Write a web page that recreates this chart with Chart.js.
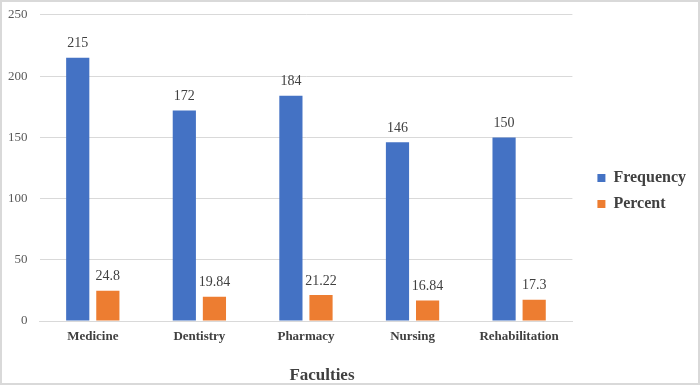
<!DOCTYPE html>
<html>
<head>
<meta charset="utf-8">
<script src="https://cdn.jsdelivr.net/npm/chart.js@4"></script>
<style>
  html, body { margin: 0; padding: 0; background: #fff; }
  #wrap { width: 700px; height: 385px; box-sizing: border-box; border: 2px solid #d9d9d9; position: relative; }
</style>
</head>
<body>
<div id="wrap"><canvas id="grafico"></canvas></div>
<script>
// datos
var facultades = ["Medicine", "Dentistry", "Pharmacy", "Nursing", "Rehabilitation"];
var frecuencia = [215, 172, 184, 146, 150];
var porcentaje = [24.8, 19.84, 21.22, 16.84, 17.3];
var ticksY = [0, 50, 100, 150, 200, 250];
var tituloX = "Faculties";

var serif = "'Liberation Serif', 'Times New Roman', serif";

// etiquetas encima de cada barra + titulo del eje x (un poco corrido a la derecha como en el original)
var etiquetas = {
  id: "etiquetas",
  afterDatasetsDraw: function(chart) {
    var ctx = chart.ctx;
    ctx.save();
    ctx.font = "14px " + serif;
    ctx.fillStyle = "#404040";
    ctx.textAlign = "center";
    ctx.textBaseline = "bottom";
    chart.data.datasets.forEach(function(ds, i) {
      chart.getDatasetMeta(i).data.forEach(function(bar, j) {
        ctx.fillText(String(ds.data[j]), bar.x, bar.y - 7);
      });
    });
    var area = chart.chartArea;
    ctx.font = "bold 17px " + serif;
    ctx.textBaseline = "middle";
    ctx.fillText(tituloX, (area.left + area.right) / 2 + 16, chart.height - 7);
    ctx.restore();
  }
};

var ctx = document.getElementById("grafico").getContext("2d");
var chart = new Chart(ctx, {
  type: "bar",
  data: {
    labels: facultades,
    datasets: [
      { label: "Frequency", data: frecuencia, backgroundColor: "#4472C4" },
      { label: "Percent", data: porcentaje, backgroundColor: "#ED7D31" }
    ]
  },
  options: {
    responsive: true,
    maintainAspectRatio: false,
    animation: false,
    categoryPercentage: 0.565,
    barPercentage: 0.77,
    layout: { padding: { top: 9, left: -6, right: 2, bottom: 12 } },
    plugins: {
      tooltip: { enabled: false },
      legend: {
        position: "right",
        labels: {
          boxWidth: 8,
          boxHeight: 8,
          padding: 10,
          color: "#404040",
          font: { family: serif, size: 16, weight: "bold" }
        }
      }
    },
    scales: {
      x: {
        grid: { display: false },
        border: { display: true, color: "#d9d9d9" },
        ticks: { color: "#404040", padding: 0, font: { family: serif, size: 13, weight: "bold" } },
        afterFit: function(s) { s.height = 50; }
      },
      y: {
        min: 0,
        max: 250,
        afterBuildTicks: function(axis) { axis.ticks = ticksY.map(function(v) { return { value: v }; }); },
        grid: { color: "#d9d9d9", drawTicks: false },
        border: { display: false },
        ticks: { color: "#595959", padding: 12, font: { family: serif, size: 13, lineHeight: 0.15 } }
      },
      // eje vacio para dejar aire entre el grafico y la leyenda
      hueco: {
        position: "right",
        grid: { display: false },
        border: { display: false },
        ticks: { display: false },
        afterFit: function(s) { s.width = 15; }
      }
    }
  },
  plugins: [etiquetas]
});
</script>
</body>
</html>
